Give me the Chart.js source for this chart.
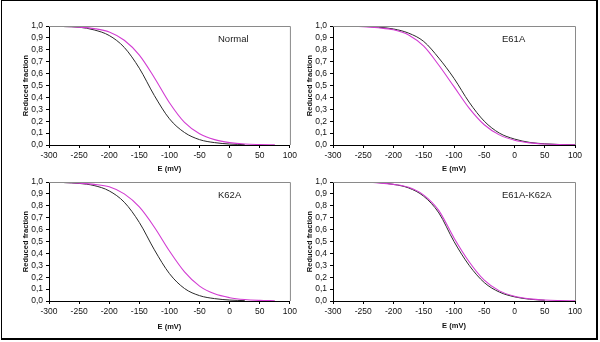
<!DOCTYPE html>
<html>
<head>
<meta charset="utf-8">
<script src="https://cdn.jsdelivr.net/npm/chart.js@4.4.0/dist/chart.umd.min.js"></script>
<style>
  body { margin: 0; background: #fff; width: 600px; height: 342px; position: relative; overflow: hidden; }
  .frame { position: absolute; left: 1px; top: 0; width: 597px; height: 340px; box-sizing: border-box;
    border-top: 1px solid #000; border-left: 1px solid #000; border-right: 2px solid #000; border-bottom: 2px solid #000; }
  canvas { position: absolute; }
</style>
</head>
<body>
<div class="frame"></div>
<canvas id="normalChart" style="left:0;top:0" width="300" height="173"></canvas>
<canvas id="e61aChart" style="left:300px;top:0" width="300" height="173"></canvas>
<canvas id="k62aChart" style="left:0;top:171px" width="300" height="160"></canvas>
<canvas id="e61ak62aChart" style="left:300px;top:171px" width="300" height="159"></canvas>
<script>
const potentials = [-300, -275, -250, -225, -200, -175, -150, -125, -100, -75, -50, -25, 0, 25, 50, 75, 100];
const xTicks = [-300, -250, -200, -150, -100, -50, 0, 50, 100];
const yTicks = [0, 0.1, 0.2, 0.3, 0.4, 0.5, 0.6, 0.7, 0.8, 0.9, 1.0];

const normalBlack = [null, 0.995, 0.99, 0.967, 0.92, 0.82, 0.645, 0.415, 0.22, 0.105, 0.045, 0.02, 0.008, 0.003, null, null, null];
const normalMagenta = [1.0, 0.997, 0.99, 0.978, 0.95, 0.88, 0.755, 0.565, 0.355, 0.19, 0.095, 0.045, 0.02, 0.008, 0.004, 0.002, null];

const e61aBlack = [null, null, 0.997, 0.99, 0.975, 0.94, 0.87, 0.73, 0.56, 0.36, 0.2, 0.1, 0.05, 0.022, 0.01, 0.004, 0.002];
const e61aMagenta = [1.0, 0.998, 0.995, 0.985, 0.968, 0.925, 0.83, 0.67, 0.49, 0.31, 0.17, 0.085, 0.04, 0.018, 0.008, 0.004, 0.002];

const k62aBlack = [null, 0.995, 0.988, 0.97, 0.925, 0.83, 0.66, 0.43, 0.23, 0.105, 0.045, 0.02, 0.008, 0.003, null, null, null];
const k62aMagenta = [1.0, 0.997, 0.99, 0.98, 0.96, 0.9, 0.79, 0.62, 0.42, 0.245, 0.125, 0.06, 0.028, 0.012, 0.005, 0.002, null];

const doubleBlack = [null, null, 1.0, 0.995, 0.98, 0.95, 0.88, 0.74, 0.5, 0.3, 0.155, 0.075, 0.035, 0.015, 0.006, null, null];
const doubleMagenta = [1.0, 1.0, 0.998, 0.993, 0.98, 0.955, 0.89, 0.76, 0.53, 0.33, 0.175, 0.085, 0.04, 0.018, 0.008, 0.004, 0.002];

const FONT = "'Liberation Sans', Arial, sans-serif";

function toPoints(values) {
  return potentials
    .map((e, i) => ({ x: e, y: values[i] }))
    .filter((p) => p.y !== null);
}

// gray top/right frame of the plot + panel name
const panelDecor = {
  id: "panelDecor",
  afterDraw(chart, args, opts) {
    const { ctx, chartArea } = chart;
    ctx.save();
    ctx.strokeStyle = "#8a8a8a";
    ctx.lineWidth = 1;
    ctx.beginPath();
    ctx.moveTo(chartArea.left, chartArea.top + 0.5);
    ctx.lineTo(chartArea.right + 0.5, chartArea.top + 0.5);
    ctx.lineTo(chartArea.right + 0.5, chartArea.bottom);
    ctx.stroke();
    ctx.fillStyle = "#222";
    ctx.font = "9.5px " + FONT;
    ctx.textBaseline = "middle";
    ctx.fillText(opts.name, chartArea.left + 169, chartArea.top + 13);
    ctx.restore();
  },
};

function makePanel(id, name, black, magenta, lay) {
  new Chart(document.getElementById(id), {
    type: "line",
    data: {
      datasets: [
        { data: toPoints(magenta), borderColor: "#d23cd2", borderWidth: 1.1 },
        { data: toPoints(black), borderColor: "#2a2a2a", borderWidth: 1 },
      ],
    },
    options: {
      responsive: false,
      animation: false,
      events: [],
      layout: { padding: { left: lay.padLeft, top: lay.padTop, right: lay.padRight, bottom: 0 } },
      elements: { point: { radius: 0 }, line: { cubicInterpolationMode: "monotone", fill: false } },
      plugins: { legend: { display: false }, tooltip: { enabled: false }, panelDecor: { name: name } },
      scales: {
        x: {
          type: "linear",
          min: -300,
          max: 100,
          afterFit: (s) => { s.height = lay.xh; },
          afterBuildTicks: (s) => { s.ticks = xTicks.map((v) => ({ value: v })); },
          grid: { drawOnChartArea: false, tickLength: 3, color: "#000" },
          border: { color: "#000" },
          ticks: { color: "#111", padding: 3, autoSkip: false, font: { family: FONT, size: 8.5 }, maxRotation: 0 },
          title: { display: true, text: "E (mV)", color: "#111", padding: 0, font: { family: FONT, size: 7.5, weight: "bold" } },
        },
        y: {
          min: 0,
          max: 1,
          afterFit: (s) => { s.width = lay.yw; },
          afterBuildTicks: (s) => { s.ticks = yTicks.map((v) => ({ value: v })); },
          grid: { drawOnChartArea: false, tickLength: 3, color: "#000" },
          border: { color: "#000" },
          ticks: {
            color: "#111",
            padding: 3,
            autoSkip: false,
            font: { family: FONT, size: 8.5 },
            callback: (v) => v.toFixed(1).replace(".", ","),
          },
          title: { display: true, text: "Reduced fraction", color: "#111", padding: 0, font: { family: FONT, size: 7.5, weight: "bold" } },
        },
      },
    },
    plugins: [panelDecor],
  });
}

document.addEventListener("DOMContentLoaded", function () {
  makePanel("normalChart", "Normal", normalBlack, normalMagenta, { padLeft: 21, yw: 28, padTop: 26, padRight: 8, xh: 28 });
  makePanel("e61aChart", "E61A", e61aBlack, e61aMagenta, { padLeft: 5, yw: 28, padTop: 26, padRight: 25, xh: 28 });
  makePanel("k62aChart", "K62A", k62aBlack, k62aMagenta, { padLeft: 21, yw: 28, padTop: 11, padRight: 8, xh: 30 });
  makePanel("e61ak62aChart", "E61A-K62A", doubleBlack, doubleMagenta, { padLeft: 5, yw: 28, padTop: 11, padRight: 25, xh: 29 });
});
</script>
</body>
</html>
